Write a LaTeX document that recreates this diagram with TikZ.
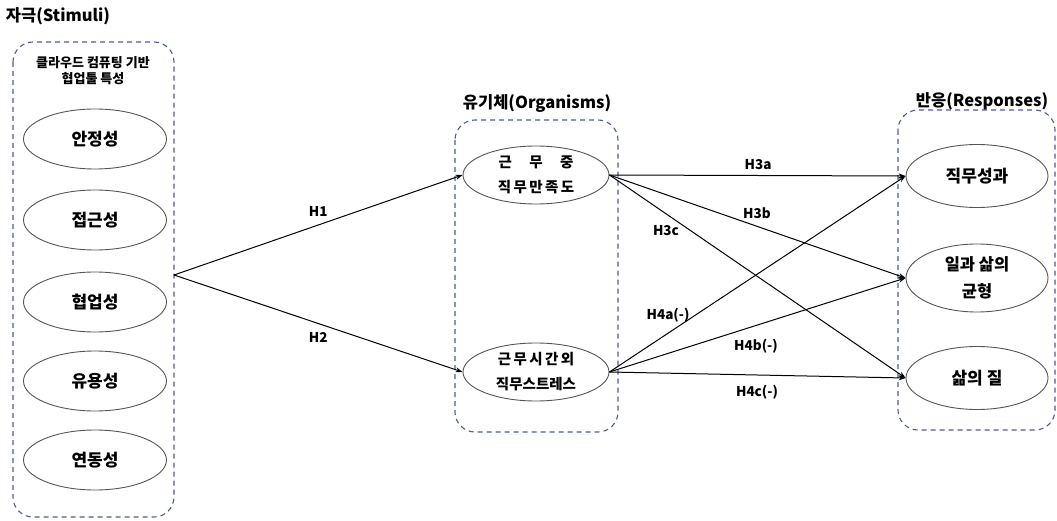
\documentclass[tikz,border=0pt]{standalone}
\usepackage{fontspec}
\setmainfont{Noto Sans CJK KR}
\usetikzlibrary{shapes.geometric,arrows.meta}
\definecolor{boxblue}{HTML}{4A5C9E}
\definecolor{ellgrey}{HTML}{555555}
\tikzset{
  group/.style={draw=boxblue, line width=1.1pt, dash pattern=on 5pt off 4pt, rounded corners=20pt},
  concept/.style={draw=ellgrey, line width=0.9pt, ellipse, minimum width=143pt, minimum height=60pt, inner sep=0pt, align=center, font=\fontsize{17}{20}\selectfont\bfseries},
  title/.style={font=\fontsize{16.5}{19}\selectfont\bfseries},
  hyp/.style={font=\fontsize{13.5}{15}\selectfont\bfseries},
  link/.style={line width=1pt, -{Stealth[length=7pt,width=5pt]}}
}
\begin{document}
\begin{tikzpicture}[x=1pt,y=-1pt]
\useasboundingbox (0,0) rectangle (1057,521);
% groups
\draw[group] (13,42) rectangle (174,517);
\draw[group] (455,120) rectangle (618,432);
\draw[group] (898,110) rectangle (1055,430);
% titles
\node[title] (tS) at (58,16) {자극(Stimuli)};
\node[title] (tO) at (537,104) {유기체(Organisms)};
\node[title] (tR) at (982,101) {반응(Responses)};
\node[font=\fontsize{13}{16}\selectfont\bfseries, align=center] (sub) at (93,71) {클라우드 컴퓨팅 기반\\협업툴 특성};
% stimuli
\node[concept] (s1) at (95,139) {안정성};
\node[concept] (s2) at (95,220) {접근성};
\node[concept] (s3) at (95,302) {협업성};
\node[concept] (s4) at (95,381) {유용성};
\node[concept] (s5) at (95,460) {연동성};
% organisms
\node[concept, minimum width=146pt, minimum height=58pt, font=\fontsize{14.5}{25}\selectfont\bfseries] (o1) at (536,175) {근\hspace{1.2em}무\hspace{1.2em}중\\직\,무\,만\,족\,도};
\node[concept, minimum width=146pt, minimum height=58pt, font=\fontsize{14.5}{25}\selectfont\bfseries] (o2) at (536,372) {근\,무\,시\,간\,외\\직무스트레스};
% responses
\node[concept, minimum width=142pt, minimum height=63pt] (r1) at (977,176) {직무성과};
\node[concept, minimum width=142pt, minimum height=68pt, font=\fontsize{16.5}{27}\selectfont\bfseries] (r2) at (977,278) {일과 삶의\\균형};
\node[concept, minimum width=142pt, minimum height=63pt] (r3) at (977,378) {삶의 질};
% source point
\coordinate (src) at (174,275);
\draw[link] (src) -- (o1.west) node[hyp, pos=0.5, above, yshift=5pt] (h1) {H1};
\draw[link] (src) -- (o2.west) node[hyp, pos=0.5, below, yshift=-5pt] (h2) {H2};
% paths to responses
\draw[link] (o1.east) -- (r1.west);
\draw[link] (o1.east) -- (r2.west);
\draw[link] (o1.east) -- (r3.west);
\draw[link] (o2.east) -- (r1.west);
\draw[link] (o2.east) -- (r2.west);
\draw[link] (o2.east) -- (r3.west);
\node[hyp] (l3a) at (758,165) {H3a};
\node[hyp] (l3b) at (757,213) {H3b};
\node[hyp] (l3c) at (666,231) {H3c};
\node[hyp] (l4a) at (668,315) {H4a(-)};
\node[hyp] (l4b) at (756,346) {H4b(-)};
\node[hyp] (l4c) at (757,392) {H4c(-)};
\end{tikzpicture}
\end{document}
